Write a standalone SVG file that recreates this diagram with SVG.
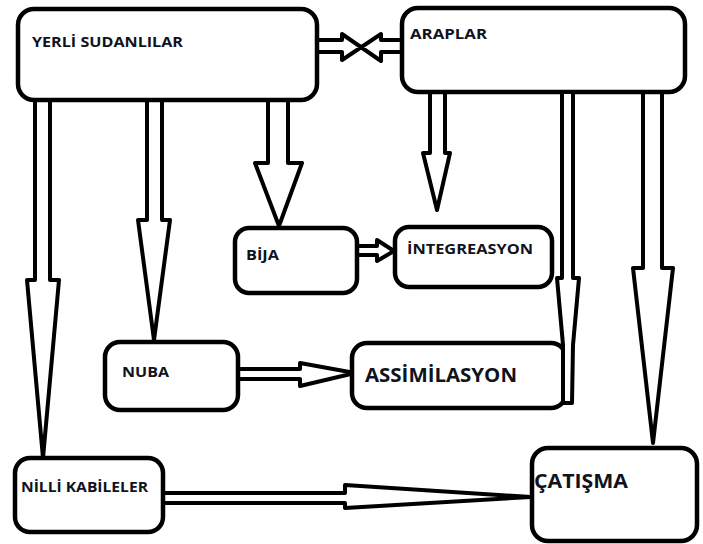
<svg xmlns="http://www.w3.org/2000/svg" width="703" height="544" viewBox="0 0 703 544">
<style>
.box{fill:#fff;stroke:#000;stroke-width:4.5}
.arr{fill:#fff;stroke:#000;stroke-width:4;stroke-linejoin:round}
.ln{fill:none;stroke:#000;stroke-width:4;stroke-linejoin:round;stroke-linecap:round}
.t{font-family:"Open Sans","Liberation Sans",Arial,sans-serif;font-weight:bold;fill:#10131c;font-size:14.5px}
.tl{font-size:19.5px}
</style>
<rect width="703" height="544" fill="#fff"/>
<g id="connectors">
<polygon class="arr" points="35,100 35,280 27,280 43,458 59,280 50,280 50,100"/>
<polygon class="arr" points="147,100 147,220 138,220 154,340 170,220 162,220 162,100"/>
<polygon class="arr" points="268,100 268,163 255,163 279,226 302,163 288,163 288,100"/>
<polygon class="arr" points="430,92 430,153 423,153 437,210 450,153 445,153 445,92"/>
<polygon class="arr" points="643,92 643,268 633,268 653,443 673,268 662,268 662,92"/>
<polygon class="arr" points="357,246 377,246 377,240 394,251 377,261 377,255 357,255"/>
<polygon class="arr" points="238,369 300,369 300,363 355,373 300,386 300,379 238,379"/>
<polygon class="arr" points="163,493 345,493 345,485 531,497 345,508 345,503 163,503"/>
<g id="cross">
<path class="ln" d="M317,40 H342 V34 L381,61 V52 H400 M317,52 H342 V60 L381,34 V40 H400"/>
</g>
</g>
<g id="yerli"><rect class="box" x="18" y="9" width="299" height="91" rx="16"/><text class="t" x="32" y="47" textLength="151" lengthAdjust="spacingAndGlyphs">YERLİ SUDANLILAR</text></g>
<g id="araplar"><rect class="box" x="402" y="8" width="283" height="84" rx="16"/><text class="t" x="410" y="39" textLength="77" lengthAdjust="spacingAndGlyphs">ARAPLAR</text></g>
<g id="bija"><rect class="box" x="235" y="228" width="122" height="65" rx="14"/><text class="t" x="246" y="260" textLength="33" lengthAdjust="spacingAndGlyphs">BİJA</text></g>
<g id="integreasyon"><rect class="box" x="395" y="227" width="157" height="60" rx="14"/><text class="t" x="407" y="254" textLength="126" lengthAdjust="spacingAndGlyphs">İNTEGREASYON</text></g>
<g id="nuba"><rect class="box" x="105" y="342" width="133" height="68" rx="15"/><text class="t" x="122" y="377" textLength="47" lengthAdjust="spacingAndGlyphs">NUBA</text></g>
<g id="assimilasyon"><rect class="box" x="352" y="343" width="214" height="65" rx="15"/><text class="t tl" x="365" y="382" textLength="152" lengthAdjust="spacingAndGlyphs">ASSİMİLASYON</text></g>
<g id="nilli"><rect class="box" x="15" y="458" width="148" height="74" rx="15"/><text class="t" x="21" y="492" textLength="127" lengthAdjust="spacingAndGlyphs">NİLLİ KABİLELER</text></g>
<g id="catisma"><rect class="box" x="532" y="448" width="165" height="93" rx="16"/><text class="t tl" x="534" y="488" textLength="94" lengthAdjust="spacingAndGlyphs">ÇATIŞMA</text></g>
<g id="arrow-to-assim">
<polygon class="arr" points="562,92 562,278 557,278 563,345 563,403 572,403 573,345 579,278 573,278 573,92"/>
</g>
</svg>
